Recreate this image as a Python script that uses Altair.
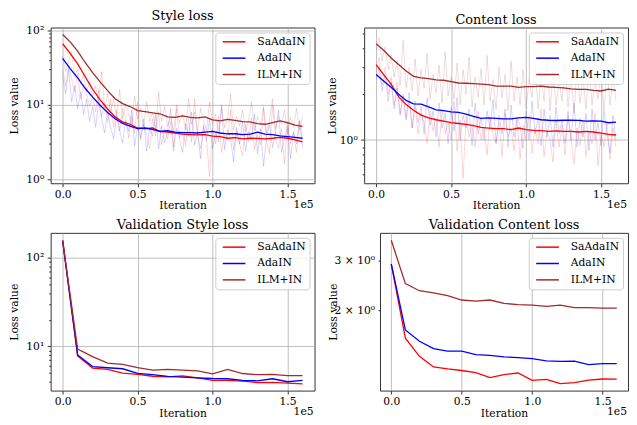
import altair as alt
import pandas as pd

FONT = "DejaVu Serif"
methods = ["SaAdaIN", "AdaIN", "ILM+IN"]
colors = ["#ff0000", "#0000ff", "#a52a2a"]

# ---- smoothed training curves (every 5000 iterations) ----
train_iter = [i * 5000 for i in range(33)]
style_sa = [66, 49, 35.5, 24, 16.2, 11.7, 8.8, 6.9, 5.9, 5.5, 4.9, 4.8, 4.9, 4.4, 4.3, 4.2, 4.05,
            4.0, 3.95, 4.0, 3.8, 3.75, 3.57, 3.63, 3.5, 3.57, 3.55, 3.5, 3.57, 3.67, 3.57, 3.4, 3.2]
style_ada = [42, 30.7, 23, 16.7, 12.7, 9.9, 7.9, 6.5, 5.65, 5.2, 4.8, 4.9, 4.7, 4.4, 4.5, 4.3, 4.25,
             4.25, 4.2, 4.3, 4.4, 4.2, 4.1, 4.1, 4.0, 4.05, 4.3, 4.05, 4.0, 3.85, 3.75, 3.67, 3.57]
style_ilm = [88, 70, 52.5, 37, 27, 20.3, 15.5, 12.1, 10.4, 9.5, 8.4, 8.1, 7.8, 7.6, 6.9, 6.8, 7.1,
             6.8, 6.7, 6.9, 6.3, 6.1, 6.4, 6.2, 5.95, 5.9, 5.6, 5.5, 5.8, 6.1, 5.8, 5.35, 5.15]
content_sa = [3.13, 2.69, 2.33, 1.93, 1.71, 1.57, 1.46, 1.40, 1.36, 1.33, 1.30, 1.285, 1.27, 1.244, 1.21, 1.20, 1.19,
              1.19, 1.17, 1.2, 1.17, 1.16, 1.155, 1.14, 1.15, 1.14, 1.14, 1.13, 1.14, 1.13, 1.11, 1.09, 1.08]
content_ada = [2.69, 2.44, 2.22, 2.0, 1.82, 1.73, 1.72, 1.65, 1.58, 1.56, 1.53, 1.52, 1.48, 1.43, 1.39, 1.40, 1.39,
               1.38, 1.38, 1.40, 1.41, 1.39, 1.36, 1.35, 1.345, 1.35, 1.35, 1.345, 1.33, 1.335, 1.33, 1.30, 1.31]
content_ilm = [4.28, 3.89, 3.46, 3.13, 2.84, 2.62, 2.56, 2.53, 2.48, 2.47, 2.42, 2.37, 2.36, 2.35, 2.33, 2.31, 2.26,
               2.26, 2.26, 2.22, 2.24, 2.24, 2.26, 2.23, 2.22, 2.2, 2.17, 2.15, 2.15, 2.12, 2.10, 2.16, 2.12]

# ---- raw (unsmoothed) training losses (every 2000 iterations) ----
raw_step = 2000
raw_style_sa = [30, 18, 34, 22, 15, 26, 12, 19, 14, 9.5,
                13, 8, 16, 7, 10.5, 6, 12, 5, 8.5, 4.5,
                9, 6.5, 3.6, 7, 4.2, 11, 3.4, 5.5, 4, 2.6,
                6.5, 3.8, 8, 2.9, 4.8, 3.5, 6, 2.4, 9, 3.6,
                4.4, 2.8, 6.5, 3.2, 12, 3.8, 2.6, 5, 3.3, 1.1,
                4.8, 3, 7, 2.3, 4, 3.4, 8.5, 2.5, 4.5, 3,
                2.1, 5.5, 3.2, 6.8, 2.5, 4, 2.9, 9, 3.3, 2.2,
                10, 3.5, 2.6, 4.8, 1.6, 5.8, 3, 4.2, 2.3, 6.2, 3.4]
raw_style_ada = [24, 14, 30, 11, 18, 9, 15, 7.5, 12, 6,
                 9.5, 5, 11, 6.5, 4.2, 8, 5, 3.5, 7, 4.6,
                 3.1, 6.2, 4.4, 8.5, 2.8, 5, 3.6, 6.5, 2.4, 4.8,
                 3.8, 7.5, 2.6, 5.2, 3.1, 4.4, 9, 2.7, 4.9, 3.5,
                 2.3, 5.6, 3.8, 8, 2.9, 4.3, 1.9, 5.4, 3.4, 6.5,
                 2.6, 4.2, 3.2, 10, 2.5, 4.6, 3.6, 1.7, 5, 3,
                 6, 2.4, 4.4, 3.4, 7.5, 2.2, 4.8, 1.5, 3.8, 5.5,
                 2.7, 4.2, 8.5, 2.3, 3.6, 5, 1.9, 4.4, 3, 6, 2.6]
raw_style_ilm = [45, 28, 38, 52, 24, 30, 19, 26, 15, 21,
                 13, 18, 11, 28, 9, 14, 8, 12, 7, 16,
                 6.5, 10, 7.5, 5.5, 13, 6.5, 9, 5, 11, 6,
                 8, 4.8, 15, 6, 9.5, 5.2, 7, 4.5, 10, 5.8,
                 7.5, 4.6, 12, 5.5, 8, 4.2, 9, 6, 4.5, 11,
                 5.5, 7.5, 4.3, 9, 5, 6.5, 14, 4.6, 7, 5.2,
                 8.5, 4.4, 6.2, 11, 4.5, 7, 5.3, 9.5, 4.2, 6.4,
                 12, 4.8, 7, 5.5, 8.5, 4, 6.8, 5, 9, 4.6, 7]
raw_content_sa = [2.8, 3.5, 2.3, 3.0, 2.0, 2.6, 1.7, 2.4, 1.5, 2.0,
                  1.4, 1.8, 1.2, 1.65, 1.1, 1.5, 1.3, 0.95, 1.55, 1.15,
                  1.4, 0.9, 1.6, 1.1, 1.3, 1.0, 1.8, 0.85, 1.35, 0.56,
                  1.45, 1.05, 1.25, 0.9, 1.55, 1.0, 1.2, 0.8, 1.4, 1.1,
                  0.95, 1.3, 0.78, 1.5, 1.05, 1.2, 0.85, 1.35, 0.75, 1.25,
                  1.0, 1.45, 0.82, 1.2, 0.95, 1.6, 0.78, 1.15, 1.0, 0.72,
                  1.35, 0.9, 1.25, 0.8, 1.45, 1.0, 0.7, 1.2, 0.92, 1.35,
                  0.78, 1.15, 0.95, 1.5, 0.68, 1.1, 0.9, 1.3, 0.75, 1.2, 0.9]
raw_content_ada = [2.5, 3.0, 2.1, 2.7, 1.8, 2.4, 1.6, 2.2, 1.45, 1.95,
                   1.35, 2.05, 1.2, 1.8, 1.3, 1.65, 1.1, 1.9, 1.25, 1.55,
                   1.05, 1.75, 1.2, 1.5, 0.95, 1.65, 1.15, 1.9, 1.0, 1.45,
                   1.2, 1.6, 0.92, 1.75, 1.1, 1.4, 1.0, 1.55, 1.2, 1.85,
                   0.95, 1.45, 1.1, 1.6, 0.9, 1.7, 1.05, 1.4, 1.25, 0.88,
                   1.55, 1.0, 1.8, 1.1, 1.4, 0.92, 1.6, 1.05, 1.45, 0.9,
                   1.65, 1.1, 1.35, 0.95, 1.55, 1.0, 1.75, 0.9, 1.4, 1.05,
                   1.5, 0.85, 1.6, 1.0, 1.3, 0.92, 1.55, 1.1, 0.82, 1.45, 1.0]
raw_content_ilm = [3.9, 4.7, 3.3, 4.1, 2.9, 3.6, 2.6, 3.3, 2.3, 4.5,
                   2.2, 3.0, 2.1, 3.4, 1.95, 2.9, 2.2, 3.7, 1.85, 2.7,
                   2.05, 3.1, 1.75, 3.8, 1.95, 2.6, 1.85, 3.2, 1.7, 2.9,
                   2.0, 3.5, 1.65, 2.6, 1.9, 2.95, 1.7, 3.6, 1.8, 2.5,
                   1.6, 3.0, 1.9, 2.7, 1.55, 3.3, 1.8, 2.6, 1.7, 2.9,
                   1.6, 2.5, 1.9, 3.1, 1.6, 2.6, 1.8, 3.4, 1.55, 2.8,
                   1.7, 2.5, 1.8, 3.2, 1.65, 2.7, 1.5, 2.9, 1.75, 2.6,
                   1.6, 3.0, 1.7, 2.5, 1.85, 2.8, 1.55, 3.1, 1.7, 2.6, 1.8]

# ---- validation losses (every 10000 iterations) ----
val_iter = [i * 10000 for i in range(17)]
val_style_sa = [155, 7.8, 5.69, 5.5, 5.0, 4.85, 4.61, 4.53, 4.65, 4.42, 4.14, 4.14, 4.07, 3.91, 3.94, 3.85, 3.78]
val_style_ada = [155, 8.0, 5.93, 5.75, 5.6, 4.98, 4.8, 4.6, 4.5, 4.42, 4.35, 4.32, 4.14, 4.1, 4.32, 4.0, 4.14]
val_style_ilm = [155, 9.35, 7.66, 6.48, 6.28, 5.78, 5.41, 5.5, 5.41, 5.3, 4.9, 5.5, 4.95, 4.8, 4.85, 4.69, 4.69]
val_content_sa = [2.92, 1.60, 1.38, 1.266, 1.246, 1.23, 1.21, 1.162, 1.19, 1.205, 1.135, 1.145, 1.106, 1.115,
                  1.137, 1.148, 1.147]
val_content_ada = [2.92, 1.71, 1.56, 1.47, 1.44, 1.44, 1.40, 1.39, 1.375, 1.365, 1.355, 1.33, 1.325, 1.327,
                   1.29, 1.30, 1.30]
val_content_ilm = [3.54, 2.49, 2.35, 2.31, 2.26, 2.18, 2.16, 2.18, 2.12, 2.10, 2.09, 2.07, 2.09, 2.05, 2.05,
                   2.04, 2.04]

x_ticks = [0, 50000, 100000, 150000]


def long_df(xs, series):
    rows = []
    for m, ys in zip(methods, series):
        for i, y in enumerate(ys):
            rows.append({"iter": xs[i] if xs is not None else i * raw_step, "value": y, "method": m})
    return pd.DataFrame(rows)


def panel(title, smooth_x, smooth, raw, ydom, yvals, ylabels, major, w, h, ext):
    label_expr = " : ".join(f"datum.value == {v} ? '{t}'" for v, t in ylabels) + " : ''"
    if major:
        major_test = " || ".join(f"datum.value == {v}" for v in major)
        tick_size = {"condition": {"test": major_test, "value": 3.5}, "value": 2}
        grid_op = {"condition": {"test": major_test, "value": 1}, "value": 0}
        yaxis = alt.Axis(title="Loss value", values=yvals, labelExpr=label_expr, tickSize=tick_size,
                         gridOpacity=grid_op, grid=True, minExtent=ext, maxExtent=ext, titlePadding=2,
                         labelPadding=3.5, labelOverlap=False, labelFlush=False)
    else:
        yaxis = alt.Axis(title="Loss value", values=yvals, labelExpr=label_expr, tickSize=2,
                         grid=False, minExtent=ext, maxExtent=ext, titlePadding=2,
                         labelPadding=3.5, labelOverlap=False, labelFlush=False)
    xenc = alt.X("iter:Q", scale=alt.Scale(domain=[-8000, 168000], nice=False, zero=False),
                 axis=alt.Axis(values=x_ticks, labelExpr="format(datum.value / 100000, '.1f')",
                               title="Iteration", grid=True, tickSize=3.5, labelPadding=2,
                               titlePadding=0.5, labelFlush=False, labelOverlap=False))
    yscale = alt.Scale(type="log", domain=ydom, nice=False, zero=False)
    cscale = alt.Scale(domain=methods, range=colors)
    layers = []
    if raw is not None:
        layers.append(alt.Chart(long_df(None, raw)).mark_line(opacity=0.17, strokeWidth=1, clip=True).encode(
            x=xenc, y=alt.Y("value:Q", scale=yscale, axis=yaxis),
            stroke=alt.Stroke("method:N", scale=cscale, legend=None), detail="method:N"))
    layers.append(alt.Chart(long_df(smooth_x, smooth)).mark_line(strokeWidth=1.3, clip=True).encode(
        x=xenc, y=alt.Y("value:Q", scale=yscale, axis=yaxis),
        color=alt.Color("method:N", scale=cscale, sort=methods,
                        legend=alt.Legend(title=None, orient="top-right"))))
    layers.append(alt.Chart(pd.DataFrame({"t": ["1e5"]})).mark_text(
        align="right", baseline="middle", font=FONT, fontSize=10.8, color="black").encode(
        text="t:N", x=alt.value(w - 1), y=alt.value(h + 22)))
    return alt.layer(*layers).properties(width=w, height=h, title=title)


p1 = panel("Style loss", train_iter, [style_sa, style_ada, style_ilm],
           [raw_style_sa, raw_style_ada, raw_style_ilm], [0.89, 109],
           [1, 2, 3, 4, 5, 6, 7, 8, 9, 10, 20, 30, 40, 50, 60, 70, 80, 90, 100],
           [(1, "10⁰"), (10, "10¹"), (100, "10²")], [1, 10, 100], 266, 157, 29)
p2 = panel("Content loss", train_iter, [content_sa, content_ada, content_ilm],
           [raw_content_sa, raw_content_ada, raw_content_ilm], [0.521, 5.48],
           [0.6, 0.7, 0.8, 0.9, 1, 2, 3, 4, 5], [(1, "10⁰")], [1], 266, 157, 25)
p3 = panel("Validation Style loss", val_iter, [val_style_sa, val_style_ada, val_style_ilm], None,
           [3.18, 190], [4, 5, 6, 7, 8, 9, 10, 20, 30, 40, 50, 60, 70, 80, 90, 100],
           [(10, "10¹"), (100, "10²")], [10, 100], 266, 159, 29)
p4 = panel("Validation Content loss", val_iter, [val_content_sa, val_content_ada, val_content_ilm], None,
           [1.045, 3.76], [2, 3], [(2, "2 × 10⁰"), (3, "3 × 10⁰")], None, 250, 159, 40)

top = alt.hconcat(p1, p2, spacing=10).resolve_scale(color="independent", x="independent", y="independent") \
    .resolve_legend(color="independent")
bottom = alt.hconcat(p3, p4, spacing=11).resolve_scale(color="independent", x="independent", y="independent") \
    .resolve_legend(color="independent")

chart = alt.vconcat(top, bottom, spacing=6).resolve_scale(
    color="independent", x="independent", y="independent").resolve_legend(color="independent").properties(
    padding=0
).configure_view(stroke="#333333", strokeWidth=1).configure_axis(
    domain=False, labelFont=FONT, titleFont=FONT, labelFontSize=10.8, titleFontSize=10.8,
    titleFontWeight="normal", labelColor="black", titleColor="black", tickColor="#333333",
    gridColor="#b0b0b0", gridWidth=0.8
).configure_title(
    font=FONT, fontSize=13, fontWeight="normal", offset=1, color="black", anchor="middle"
).configure_legend(
    orient="top-right", offset=5, padding=4, fillColor="rgba(255,255,255,0.8)", strokeColor="#cccccc",
    cornerRadius=3, symbolType="M-5,0H5", symbolSize=21, symbolStrokeWidth=1.5, symbolOffset=9.5,
    labelFont=FONT, labelFontSize=10.8, labelColor="black", labelOffset=18, rowPadding=4.5, labelLimit=200
)

chart.save("out.html", embed_options={"renderer": "svg", "actions": False})
